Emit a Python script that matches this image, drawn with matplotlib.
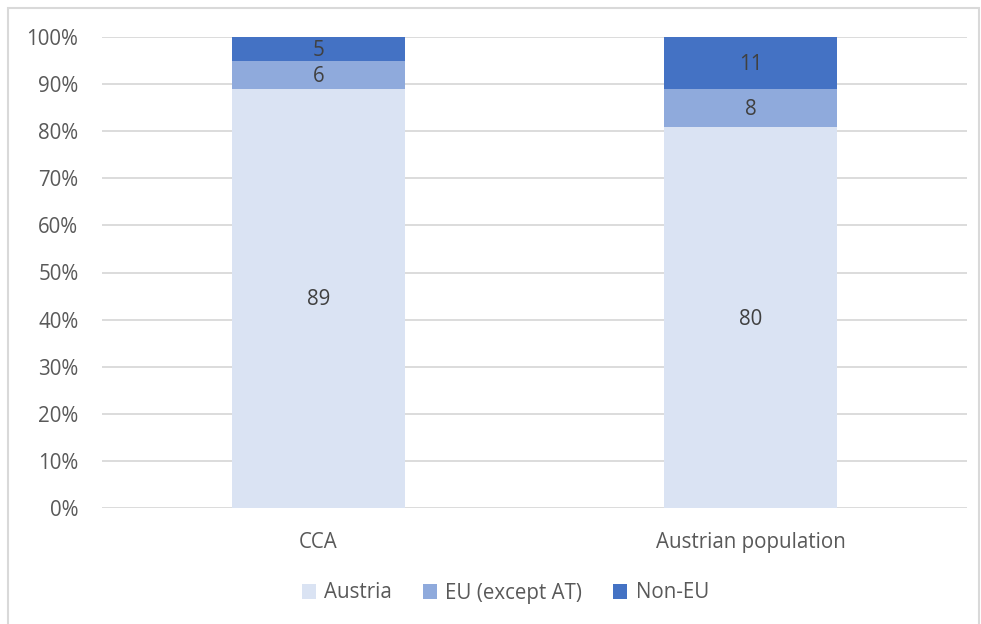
import matplotlib.pyplot as plt
from matplotlib.patches import Rectangle
import numpy as np

plt.rcParams["font.family"] = ["Open Sans", "DejaVu Sans"]

categories = ["CCA", "Austrian population"]
series = ["Austria", "EU (except AT)", "Non-EU"]
austria = [89, 80]
eu = [6, 8]
non_eu = [5, 11]
colors = ["#DAE3F3", "#8FAADC", "#4472C4"]
text_color = "#595959"


def main():
    fig = plt.figure(figsize=(9.81, 6.24), dpi=100)
    ax = fig.add_axes([102 / 981, 1 - 508 / 624, 865 / 981, 471 / 624])

    values = np.array([austria, eu, non_eu], dtype=float)
    totals = values.sum(axis=0)
    shares = values / totals * 100
    x = np.arange(len(categories))

    bottom = np.zeros(len(categories))
    for i, name in enumerate(series):
        ax.bar(x, shares[i], 0.4, bottom=bottom, color=colors[i],
               label=name, zorder=2)
        for j in range(len(categories)):
            ax.text(x[j], bottom[j] + shares[i][j] / 2 - 0.3,
                    f"{values[i][j]:.0f}", ha="center", va="center",
                    fontsize=14.8, color="#404040", zorder=3)
        bottom += shares[i]

    ax.set_xlim(-0.5, 1.5)
    ax.set_ylim(0, 100)
    ax.set_yticks(np.arange(0, 101, 10))
    ax.set_yticklabels([f"{v}%" for v in range(0, 101, 10)])
    ax.set_xticks(x)
    ax.set_xticklabels(categories)
    ax.tick_params(length=0, labelsize=14.8, labelcolor=text_color)
    ax.tick_params(axis="y", pad=17)
    ax.tick_params(axis="x", pad=17)
    ax.grid(axis="y", color="#D9D9D9", linewidth=1.3, zorder=0)
    for s in ax.spines.values():
        s.set_visible(False)

    leg = ax.legend(loc="center", bbox_to_anchor=(0.515, (624 - 593) / 624),
                    bbox_transform=fig.transFigure, ncol=3, frameon=False,
                    fontsize=14.8, handlelength=0.7, handleheight=0.7,
                    handletextpad=0.4, columnspacing=1.5)
    for t in leg.get_texts():
        t.set_color(text_color)

    fig.patches.append(Rectangle((8 / 981, -0.1), 971 / 981, 1.1 - 8 / 624,
                                 transform=fig.transFigure, fill=False,
                                 edgecolor="#D9D9D9", linewidth=1.5))

    fig.savefig("out.png", dpi=100)
    plt.close(fig)


if __name__ == "__main__":
    main()
